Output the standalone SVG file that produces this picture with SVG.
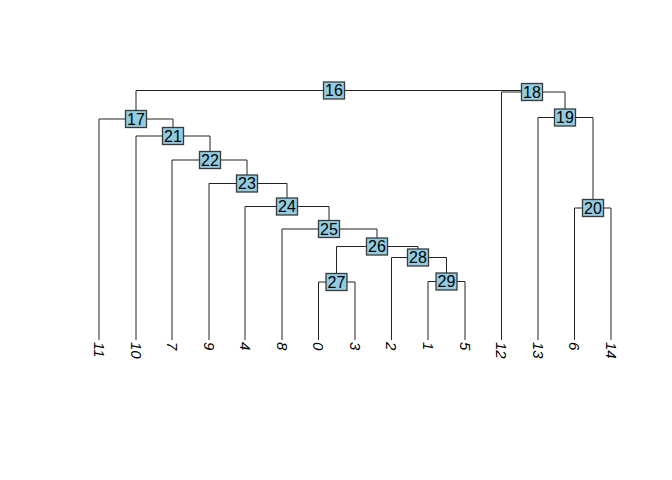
<svg xmlns="http://www.w3.org/2000/svg" width="672" height="480" viewBox="0 0 672 480">
<style>
.e{fill:none;stroke:#222;stroke-width:1}
.b{fill:#92CCE0;stroke:#3a3a3a;stroke-width:1.3}
.t{font-family:"Liberation Sans",Arial,sans-serif;font-size:16px;fill:#000;text-anchor:middle}
.l{font-family:"Liberation Sans",Arial,sans-serif;font-size:15px;font-style:italic;fill:#000}
</style>
<rect width="672" height="480" fill="#fff"/>
<g id="connectors">
<path class="e" d="M136 119 V90.5 H532 V92"/>
<path class="e" d="M99 340 V119 H173 V136"/>
<path class="e" d="M136 340 V136 H210 V160"/>
<path class="e" d="M172 340 V160 H247 V183.5"/>
<path class="e" d="M209 340 V183.5 H287 V206.5"/>
<path class="e" d="M245 340 V206.5 H329 V229"/>
<path class="e" d="M282 340 V229 H377 V246.5"/>
<path class="e" d="M336.5 282 V246.5 H418 V257.5"/>
<path class="e" d="M318.5 340 V282 H355 V340"/>
<path class="e" d="M391.5 340 V257.5 H446.5 V281.5"/>
<path class="e" d="M428 340 V281.5 H465 V340"/>
<path class="e" d="M501.5 340 V92 H565 V117.5"/>
<path class="e" d="M538 340 V117.5 H593 V208"/>
<path class="e" d="M574.5 340 V208 H611 V340"/>
</g>
<g id="n16"><rect class="b" x="323.5" y="82" width="21" height="17"/><text class="t" x="334" y="96">16</text></g>
<g id="n17"><rect class="b" x="125.5" y="110.5" width="21" height="17"/><text class="t" x="136" y="124.5">17</text></g>
<g id="n18"><rect class="b" x="521.5" y="83.5" width="21" height="17"/><text class="t" x="532" y="97.5">18</text></g>
<g id="n19"><rect class="b" x="554.5" y="109" width="21" height="17"/><text class="t" x="565" y="123">19</text></g>
<g id="n20"><rect class="b" x="582.5" y="199.5" width="21" height="17"/><text class="t" x="593" y="213.5">20</text></g>
<g id="n21"><rect class="b" x="162.5" y="127.5" width="21" height="17"/><text class="t" x="173" y="141.5">21</text></g>
<g id="n22"><rect class="b" x="199.5" y="151.5" width="21" height="17"/><text class="t" x="210" y="165.5">22</text></g>
<g id="n23"><rect class="b" x="236.5" y="175" width="21" height="17"/><text class="t" x="247" y="189">23</text></g>
<g id="n24"><rect class="b" x="276.5" y="198" width="21" height="17"/><text class="t" x="287" y="212">24</text></g>
<g id="n25"><rect class="b" x="318.5" y="220.5" width="21" height="17"/><text class="t" x="329" y="234.5">25</text></g>
<g id="n26"><rect class="b" x="366.5" y="238" width="21" height="17"/><text class="t" x="377" y="252">26</text></g>
<g id="n27"><rect class="b" x="326" y="273.5" width="21" height="17"/><text class="t" x="336.5" y="287.5">27</text></g>
<g id="n28"><rect class="b" x="407.5" y="249" width="21" height="17"/><text class="t" x="418" y="263">28</text></g>
<g id="n29"><rect class="b" x="436" y="273" width="21" height="17"/><text class="t" x="446.5" y="287">29</text></g>
<g id="leaves">
<g id="leaf11"><text class="l" transform="translate(99,342) rotate(90)" dy="0.35em">11</text></g>
<g id="leaf10"><text class="l" transform="translate(136,342) rotate(90)" dy="0.35em">10</text></g>
<g id="leaf7"><text class="l" transform="translate(172,342) rotate(90)" dy="0.35em">7</text></g>
<g id="leaf9"><text class="l" transform="translate(209,342) rotate(90)" dy="0.35em">9</text></g>
<g id="leaf4"><text class="l" transform="translate(245,342) rotate(90)" dy="0.35em">4</text></g>
<g id="leaf8"><text class="l" transform="translate(282,342) rotate(90)" dy="0.35em">8</text></g>
<g id="leaf0"><text class="l" transform="translate(318.5,342) rotate(90)" dy="0.35em">0</text></g>
<g id="leaf3"><text class="l" transform="translate(355,342) rotate(90)" dy="0.35em">3</text></g>
<g id="leaf2"><text class="l" transform="translate(391.5,342) rotate(90)" dy="0.35em">2</text></g>
<g id="leaf1"><text class="l" transform="translate(428,342) rotate(90)" dy="0.35em">1</text></g>
<g id="leaf5"><text class="l" transform="translate(465,342) rotate(90)" dy="0.35em">5</text></g>
<g id="leaf12"><text class="l" transform="translate(501.5,342) rotate(90)" dy="0.35em">12</text></g>
<g id="leaf13"><text class="l" transform="translate(538,342) rotate(90)" dy="0.35em">13</text></g>
<g id="leaf6"><text class="l" transform="translate(574.5,342) rotate(90)" dy="0.35em">6</text></g>
<g id="leaf14"><text class="l" transform="translate(611,342) rotate(90)" dy="0.35em">14</text></g>
</g>
</svg>
